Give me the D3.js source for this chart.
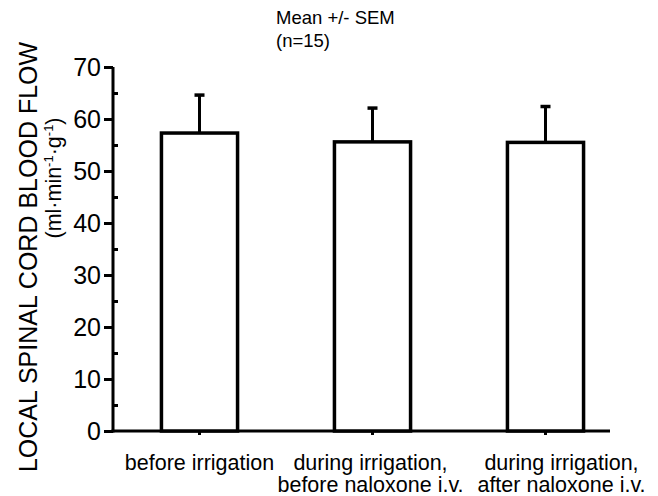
<!DOCTYPE html>
<html>
<head>
<meta charset="utf-8">
<script src="https://cdn.jsdelivr.net/npm/d3@7"></script>
<style>
  body { margin: 0; background: #fff; }
  svg text { font-family: "Liberation Sans", Arial, Helvetica, sans-serif; fill: #000; }
</style>
</head>
<body>
<div id="chart"></div>
<script>
var categories = [
  ['before irrigation'],
  ['during irrigation,', 'before naloxone i.v.'],
  ['during irrigation,', 'after naloxone i.v.']
];
var means = [57.3, 55.6, 55.5];
var sems = [7.3, 6.5, 6.9];
var yTicks = [0, 10, 20, 30, 40, 50, 60, 70];
var yMinorTicks = [5, 15, 25, 35, 45, 55, 65];

var width = 658;
var height = 496;
var x0 = 113, xEnd = 610;
var yBase = 431, yTop = 67;
var labelShift = [0, -2, 16];   // labels were placed by hand in the original

var svg = d3.select('#chart')
  .append('svg')
  .attr('width', width)
  .attr('height', height);

var x = d3.scaleBand()
  .domain(d3.range(categories.length))
  .range([x0, x0 + 519])
  .paddingInner(0.56)
  .paddingOuter(0.28);

var y = d3.scaleLinear()
  .domain([0, 70])
  .range([yBase, yTop]);

// y axis: major ticks outside, minor ticks inside
var yAxis = svg.append('g')
  .attr('transform', 'translate(' + x0 + ',0)')
  .call(d3.axisLeft(y).tickValues(yTicks).tickSize(9).tickPadding(3));
yAxis.select('.domain').attr('d', 'M0,' + (yTop) + 'V' + (yBase + 1.5)).attr('stroke-width', 3);
yAxis.selectAll('.tick line').attr('stroke-width', 3);
yAxis.selectAll('.tick text').style('font-size', '25px');

svg.append('g')
  .attr('transform', 'translate(' + x0 + ',0)')
  .call(d3.axisRight(y).tickValues(yMinorTicks).tickSize(5).tickFormat(''))
  .call(function(g) {
    g.select('.domain').remove();
    g.selectAll('.tick line').attr('stroke-width', 3);
  });

// x axis
var xAxis = svg.append('g')
  .attr('transform', 'translate(0,' + yBase + ')')
  .call(d3.axisBottom(x).tickSize(4).tickFormat(''));
xAxis.select('.domain').attr('d', 'M' + (x0 - 1.5) + ',0H' + xEnd).attr('stroke-width', 3);
xAxis.selectAll('.tick line').attr('stroke-width', 3);

// category labels
categories.forEach(function(lines, i) {
  var cx = x(i) + x.bandwidth() / 2 + labelShift[i];
  var t = svg.append('text')
    .attr('x', cx)
    .attr('y', 470)
    .attr('text-anchor', 'middle')
    .style('font-size', '21.5px');
  lines.forEach(function(l, j) {
    t.append('tspan')
      .attr('x', cx)
      .attr('dy', j === 0 ? 0 : 22)
      .text(l);
  });
});

// error bars
var err = svg.selectAll('.err')
  .data(means)
  .enter()
  .append('g')
  .attr('class', 'err');
err.append('line')
  .attr('x1', function(d, i) { return x(i) + x.bandwidth() / 2; })
  .attr('x2', function(d, i) { return x(i) + x.bandwidth() / 2; })
  .attr('y1', function(d) { return y(d); })
  .attr('y2', function(d, i) { return y(d + sems[i]); })
  .attr('stroke', '#000')
  .attr('stroke-width', 3);
err.append('line')
  .attr('x1', function(d, i) { return x(i) + x.bandwidth() / 2 - 5; })
  .attr('x2', function(d, i) { return x(i) + x.bandwidth() / 2 + 5; })
  .attr('y1', function(d, i) { return y(d + sems[i]); })
  .attr('y2', function(d, i) { return y(d + sems[i]); })
  .attr('stroke', '#000')
  .attr('stroke-width', 3.5);

// bars
svg.selectAll('.bar')
  .data(means)
  .enter()
  .append('rect')
  .attr('class', 'bar')
  .attr('x', function(d, i) { return x(i); })
  .attr('y', function(d) { return y(d); })
  .attr('width', x.bandwidth())
  .attr('height', function(d) { return yBase - y(d); })
  .attr('fill', '#fff')
  .attr('stroke', '#000')
  .attr('stroke-width', 3.5);

// title
svg.append('text')
  .attr('x', 276).attr('y', 24)
  .style('font-size', '18.5px')
  .text('Mean +/- SEM');
svg.append('text')
  .attr('x', 276).attr('y', 47)
  .style('font-size', '18.5px')
  .text('(n=15)');

// y labels
svg.append('text')
  .attr('transform', 'translate(37,257) rotate(-90)')
  .attr('text-anchor', 'middle')
  .style('font-size', '25px')
  .text('LOCAL SPINAL CORD BLOOD FLOW');

var sub = svg.append('text')
  .attr('transform', 'translate(61,178) rotate(-90)')
  .attr('text-anchor', 'middle')
  .style('font-size', '21.5px');
sub.append('tspan').text('(ml\u00b7min');
sub.append('tspan').attr('dy', -8).style('font-size', '13px').text('-1');
sub.append('tspan').attr('dy', 8).text('\u00b7g');
sub.append('tspan').attr('dy', -8).style('font-size', '13px').text('-1');
sub.append('tspan').attr('dy', 8).text(')');
</script>
</body>
</html>
